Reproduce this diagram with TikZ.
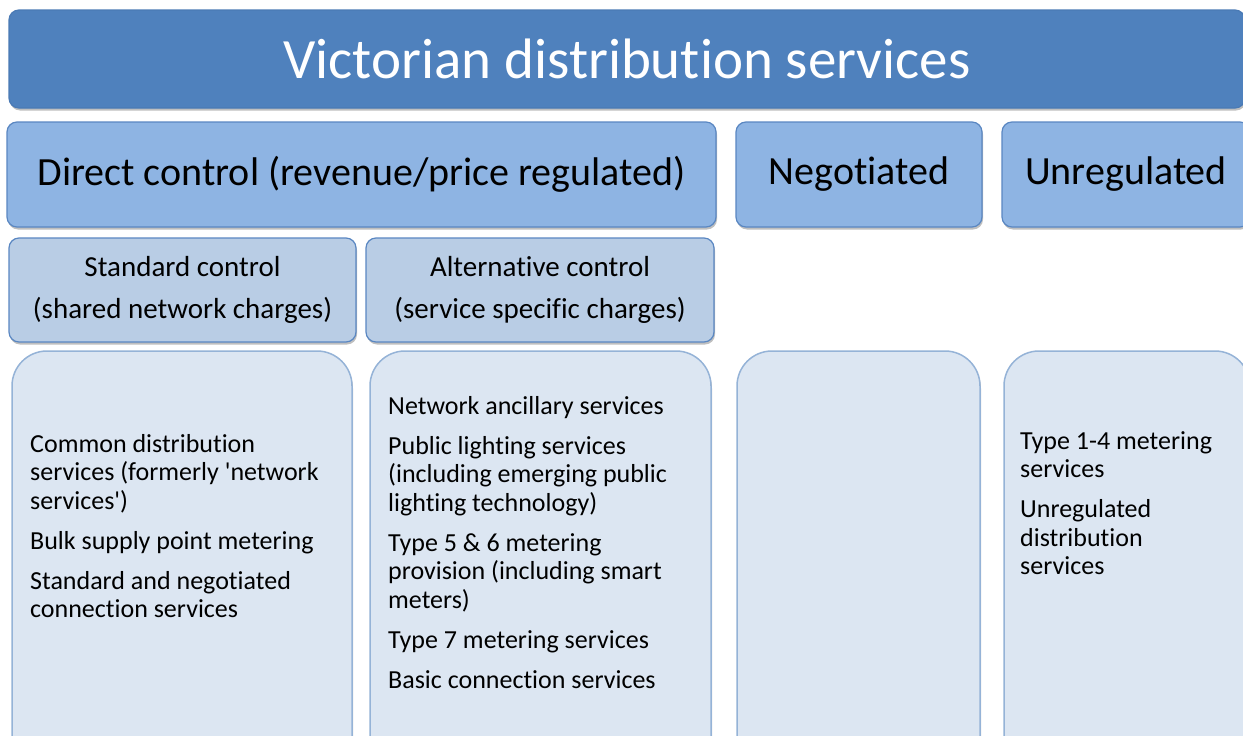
\documentclass[tikz,border=0pt]{standalone}
\usepackage{fontspec}
\setmainfont[Ligatures={TeX,CommonOff}, Contextuals={AlternateOff}]{Carlito}
\usepackage{xcolor}
\usepackage{tikz}
\usetikzlibrary{shadows}

\definecolor{bannerfill}{HTML}{4F81BD}
\definecolor{bannerdraw}{HTML}{4A7AB5}
\definecolor{regimefill}{HTML}{8EB4E3}
\definecolor{regimedraw}{HTML}{5A87C2}
\definecolor{controlfill}{HTML}{B9CDE5}
\definecolor{panelfill}{HTML}{DCE6F2}
\definecolor{paneldraw}{HTML}{95B3D7}

\begin{document}
\begin{tikzpicture}[
    x=1pt, y=-1pt,
    box/.style={rectangle, draw, rounded corners=10pt, inner sep=0pt, outer sep=0pt, align=center, line width=1.2pt,
        drop shadow={shadow xshift=1pt, shadow yshift=-2.5pt, opacity=0.25, fill=black}},
    banner/.style={box, fill=bannerfill, draw=bannerdraw, text=white, font=\fontsize{57}{68}\selectfont, minimum height=98pt},
    regime/.style={box, fill=regimefill, draw=regimedraw, font=\fontsize{40}{48}\selectfont, minimum height=105pt},
    control/.style={box, fill=controlfill, draw=regimedraw, font=\fontsize{29}{42}\selectfont, minimum height=104pt},
    panel/.style={box, fill=panelfill, draw=paneldraw, line width=1.5pt, rounded corners=35pt, minimum height=429pt},
    items/.style={anchor=north west, align=left, inner sep=0pt, font=\fontsize{26}{28.5}\selectfont}
]
\useasboundingbox (0,0) rectangle (1243,736);
\fill[white] (0,0) rectangle (1243,736);
\clip (0,0) rectangle (1243,736);

% Header
\node[banner, minimum width=1236pt] (victoria) at (627,59) {Victorian distribution services};

% Regulation types
\node[regime, minimum width=709pt] (direct) at (361.5,174.5) {Direct control (revenue/price regulated)};
\node[regime, minimum width=246pt] (negotiated) at (859,174.5) {Negotiated};
\node[regime, minimum width=248pt] (unregulated) at (1126,174.5) {Unregulated};

% Direct control split
\node[control, minimum width=347pt] (standard) at (182.5,290) {Standard control\\(shared network charges)};
\node[control, minimum width=348pt] (alternative) at (540,290) {Alternative control\\(service specific charges)};

% Service panels
\node[panel, minimum width=340pt] (standard_panel) at (182,565.5) {};
\node[panel, minimum width=341pt] (alternative_panel) at (540.5,565.5) {};
\node[panel, minimum width=243pt] (negotiated_panel) at (858.5,565.5) {};
\node[panel, minimum width=246pt] (unregulated_panel) at (1127,565.5) {};

% Services
\node[items] (standard_items) at (30,434) {Common distribution\\services (formerly \textquotesingle network\\services\textquotesingle)\\[11.5pt]
    Bulk supply point metering\\[11.5pt]Standard and negotiated\\connection services};
\node[items] (alternative_items) at (388,396) {Network ancillary services\\[11.5pt]
    Public lighting services\\(including emerging public\\lighting technology)\\[11.5pt]
    Type 5 \& 6 metering\\provision (including smart\\meters)\\[11.5pt]
    Type 7 metering services\\[11.5pt]Basic connection services};
\node[items] (unregulated_items) at (1020,431) {Type 1-4 metering\\services\\[11.5pt]
    Unregulated\\distribution\\services};

\end{tikzpicture}
\end{document}
